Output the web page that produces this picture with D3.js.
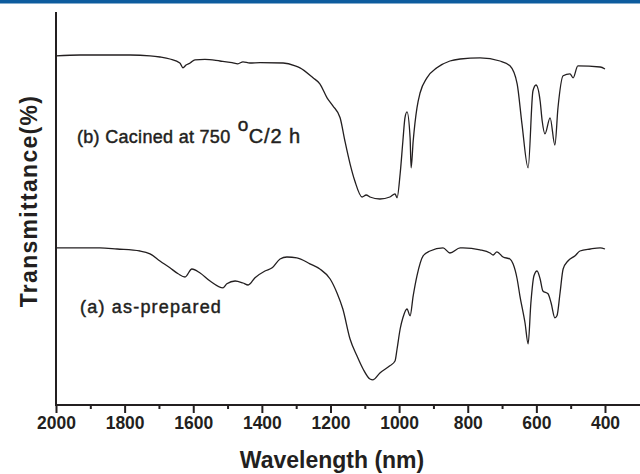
<!DOCTYPE html>
<html>
<head>
<meta charset="utf-8">
<script src="https://cdn.jsdelivr.net/npm/d3@7"></script>
<style>
  body { margin: 0; background: #fff; }
  svg { display: block; }
</style>
</head>
<body>
<div id="main-container"></div>
<script>
// Wavelength (nm) and transmittance (arb. %)
const WAVE_B = [2000, 1930, 1784, 1726, 1697, 1668, 1639, 1630, 1621, 1609, 1595, 1566, 1522, 1487, 1470, 1455, 1435, 1405, 1338, 1303,
    1289, 1251, 1231, 1210, 1193, 1172, 1158, 1143, 1129, 1108, 1096, 1085, 1056, 1027, 1012, 1006, 997, 989, 983, 977,
    968, 965, 959, 948, 939, 919, 890, 852, 822, 764, 706, 677, 656, 642, 624, 610, 601, 589, 583, 575,
    560, 546, 537, 522, 502, 493, 479, 414, 400];
const TRANS_B = [87.3, 87.5, 87.5, 87.3, 87.0, 86.5, 85.5, 84.3, 85.0, 85.5, 86.3, 86.4, 86.0, 85.6, 85.3, 85.8, 85.5, 85.6, 85.5, 84.8,
    84.3, 81.8, 80.3, 76.8, 74.8, 71.8, 66.0, 60.3, 56.0, 52.0, 52.5, 52.0, 51.5, 52.0, 52.8, 51.8, 57.8, 66.0, 71.8, 73.3,
    66.8, 59.3, 66.0, 74.3, 78.0, 81.8, 84.3, 86.0, 86.5, 86.8, 86.0, 84.8, 80.3, 70.3, 59.3, 78.5, 80.0, 76.0, 71.0, 67.8,
    71.8, 65.0, 74.3, 82.3, 82.8, 81.8, 84.8, 84.5, 84.0];

const WAVE_A = [2000, 1872, 1822, 1755, 1726, 1697, 1668, 1644, 1624, 1604, 1580, 1551, 1513, 1502, 1478, 1455, 1440, 1420, 1391, 1370,
    1347, 1327, 1298, 1260, 1231, 1201, 1181, 1164, 1143, 1123, 1105, 1085, 1076, 1056, 1027, 1012, 1006, 997, 989, 977,
    968, 959, 948, 930, 910, 872, 852, 822, 814, 764, 735, 726, 715, 697, 677, 668, 656, 648, 633, 624,
    616, 607, 598, 589, 581, 566, 557, 546, 540, 531, 522, 508, 487, 473, 443, 414, 400];
const TRANS_A = [39.3, 39.3, 39.0, 38.5, 37.8, 36.0, 34.3, 32.8, 32.0, 34.0, 33.0, 31.0, 29.3, 30.3, 31.0, 30.5, 30.0, 31.8, 33.5, 34.3,
    36.5, 37.0, 36.8, 35.3, 34.0, 31.5, 28.0, 24.0, 16.5, 12.3, 9.0, 6.5, 6.3, 8.0, 9.8, 11.0, 14.0, 19.0, 21.8, 24.0,
    22.3, 27.3, 32.3, 37.3, 38.5, 39.3, 38.0, 39.3, 39.3, 38.8, 38.0, 37.5, 38.3, 37.0, 36.5, 35.3, 31.5, 27.3, 20.5, 15.3,
    25.5, 32.3, 33.5, 31.5, 28.5, 27.8, 25.5, 21.8, 22.3, 28.0, 34.0, 36.0, 37.3, 38.5, 39.0, 39.3, 39.0];

const X_TICKS = [2000, 1800, 1600, 1400, 1200, 1000, 800, 600, 400];
const X_MINOR = [1900, 1700, 1500, 1300, 1100, 900, 700, 500];

const WIDTH = 640;
const HEIGHT = 474;
const FONT = '"Liberation Sans", Arial, sans-serif';
const INK = '#231f20';

const SVG = d3.select('#main-container').append('svg')
    .attr('width', WIDTH)
    .attr('height', HEIGHT);

// blue rule along the top
SVG.append('rect')
    .attr('x', 0).attr('y', 0)
    .attr('width', WIDTH).attr('height', 3.5)
    .attr('fill', '#0d5c9e');

// Scales
const X = d3.scaleLinear().domain([2000, 300]).range([56, 639.3]);
const Y = d3.scaleLinear().domain([0, 98]).range([405, 13]);

// Major ticks with labels
const X_AXIS = d3.axisBottom(X)
    .tickValues(X_TICKS)
    .tickSize(8)
    .tickPadding(4)
    .tickFormat(d3.format('d'));

const AXIS_G = SVG.append('g')
    .attr('transform', `translate(0, ${Y(0)})`)
    .call(X_AXIS);
AXIS_G.select('.domain').remove();
AXIS_G.selectAll('line').attr('stroke', INK).attr('stroke-width', 2);
AXIS_G.selectAll('text')
    .attr('fill', INK)
    .style('font-family', FONT)
    .style('font-weight', 'bold')
    .style('font-size', '17.5px');

// Minor ticks
SVG.append('g')
    .attr('transform', `translate(0, ${Y(0)})`)
    .call(d3.axisBottom(X).tickValues(X_MINOR).tickSize(4).tickFormat(''))
    .call(g => g.select('.domain').remove())
    .selectAll('line').attr('stroke', INK).attr('stroke-width', 2);

// Axis lines
SVG.append('line')
    .attr('x1', X(2000)).attr('x2', WIDTH)
    .attr('y1', Y(0)).attr('y2', Y(0))
    .attr('stroke', INK).attr('stroke-width', 2);
SVG.append('line')
    .attr('x1', X(2000)).attr('x2', X(2000))
    .attr('y1', Y(98) - 1).attr('y2', Y(0) + 1)
    .attr('stroke', INK).attr('stroke-width', 2);

// Spectra
const LINE = d3.line()
    .x(d => X(d[0]))
    .y(d => Y(d[1]))
    .curve(d3.curveMonotoneX);

[[WAVE_B, TRANS_B], [WAVE_A, TRANS_A]].forEach(([w, t]) => {
    SVG.append('path')
        .datum(w.map((v, i) => [v, t[i]]))
        .attr('fill', 'none')
        .attr('stroke', INK)
        .attr('stroke-width', 1.3)
        .attr('d', LINE);
});

// Axis titles
SVG.append('text')
    .attr('x', 332).attr('y', 468)
    .attr('text-anchor', 'middle')
    .attr('fill', INK)
    .style('font-family', FONT)
    .style('font-weight', 'bold')
    .style('font-size', '23px')
    .text('Wavelength (nm)');

SVG.append('text')
    .attr('transform', 'translate(37, 201) rotate(-90)')
    .attr('text-anchor', 'middle')
    .attr('fill', INK)
    .style('font-family', FONT)
    .style('font-weight', 'bold')
    .style('font-size', '23px')
    .style('letter-spacing', '1.3px')
    .text('Transmittance(%)');

// Curve annotations
const NOTE_B = SVG.append('text')
    .attr('x', 77).attr('y', 143)
    .attr('fill', INK)
    .attr('stroke', INK)
    .attr('stroke-width', 0.45)
    .style('font-family', FONT)
    .style('font-size', '18px')
    .style('letter-spacing', '0.3px');
NOTE_B.append('tspan').text('(b) Cacined at 750 ');
NOTE_B.append('tspan').attr('dy', -12).attr('dx', 2).style('font-size', '19px').text('o');
NOTE_B.append('tspan').attr('dy', 12).style('font-size', '20px').style('letter-spacing', '0.9px').text('C/2 h');

SVG.append('text')
    .attr('x', 80).attr('y', 313)
    .attr('fill', INK)
    .attr('stroke', INK)
    .attr('stroke-width', 0.45)
    .style('font-family', FONT)
    .style('font-size', '18px')
    .style('letter-spacing', '1.2px')
    .text('(a) as-prepared');
</script>
</body>
</html>
